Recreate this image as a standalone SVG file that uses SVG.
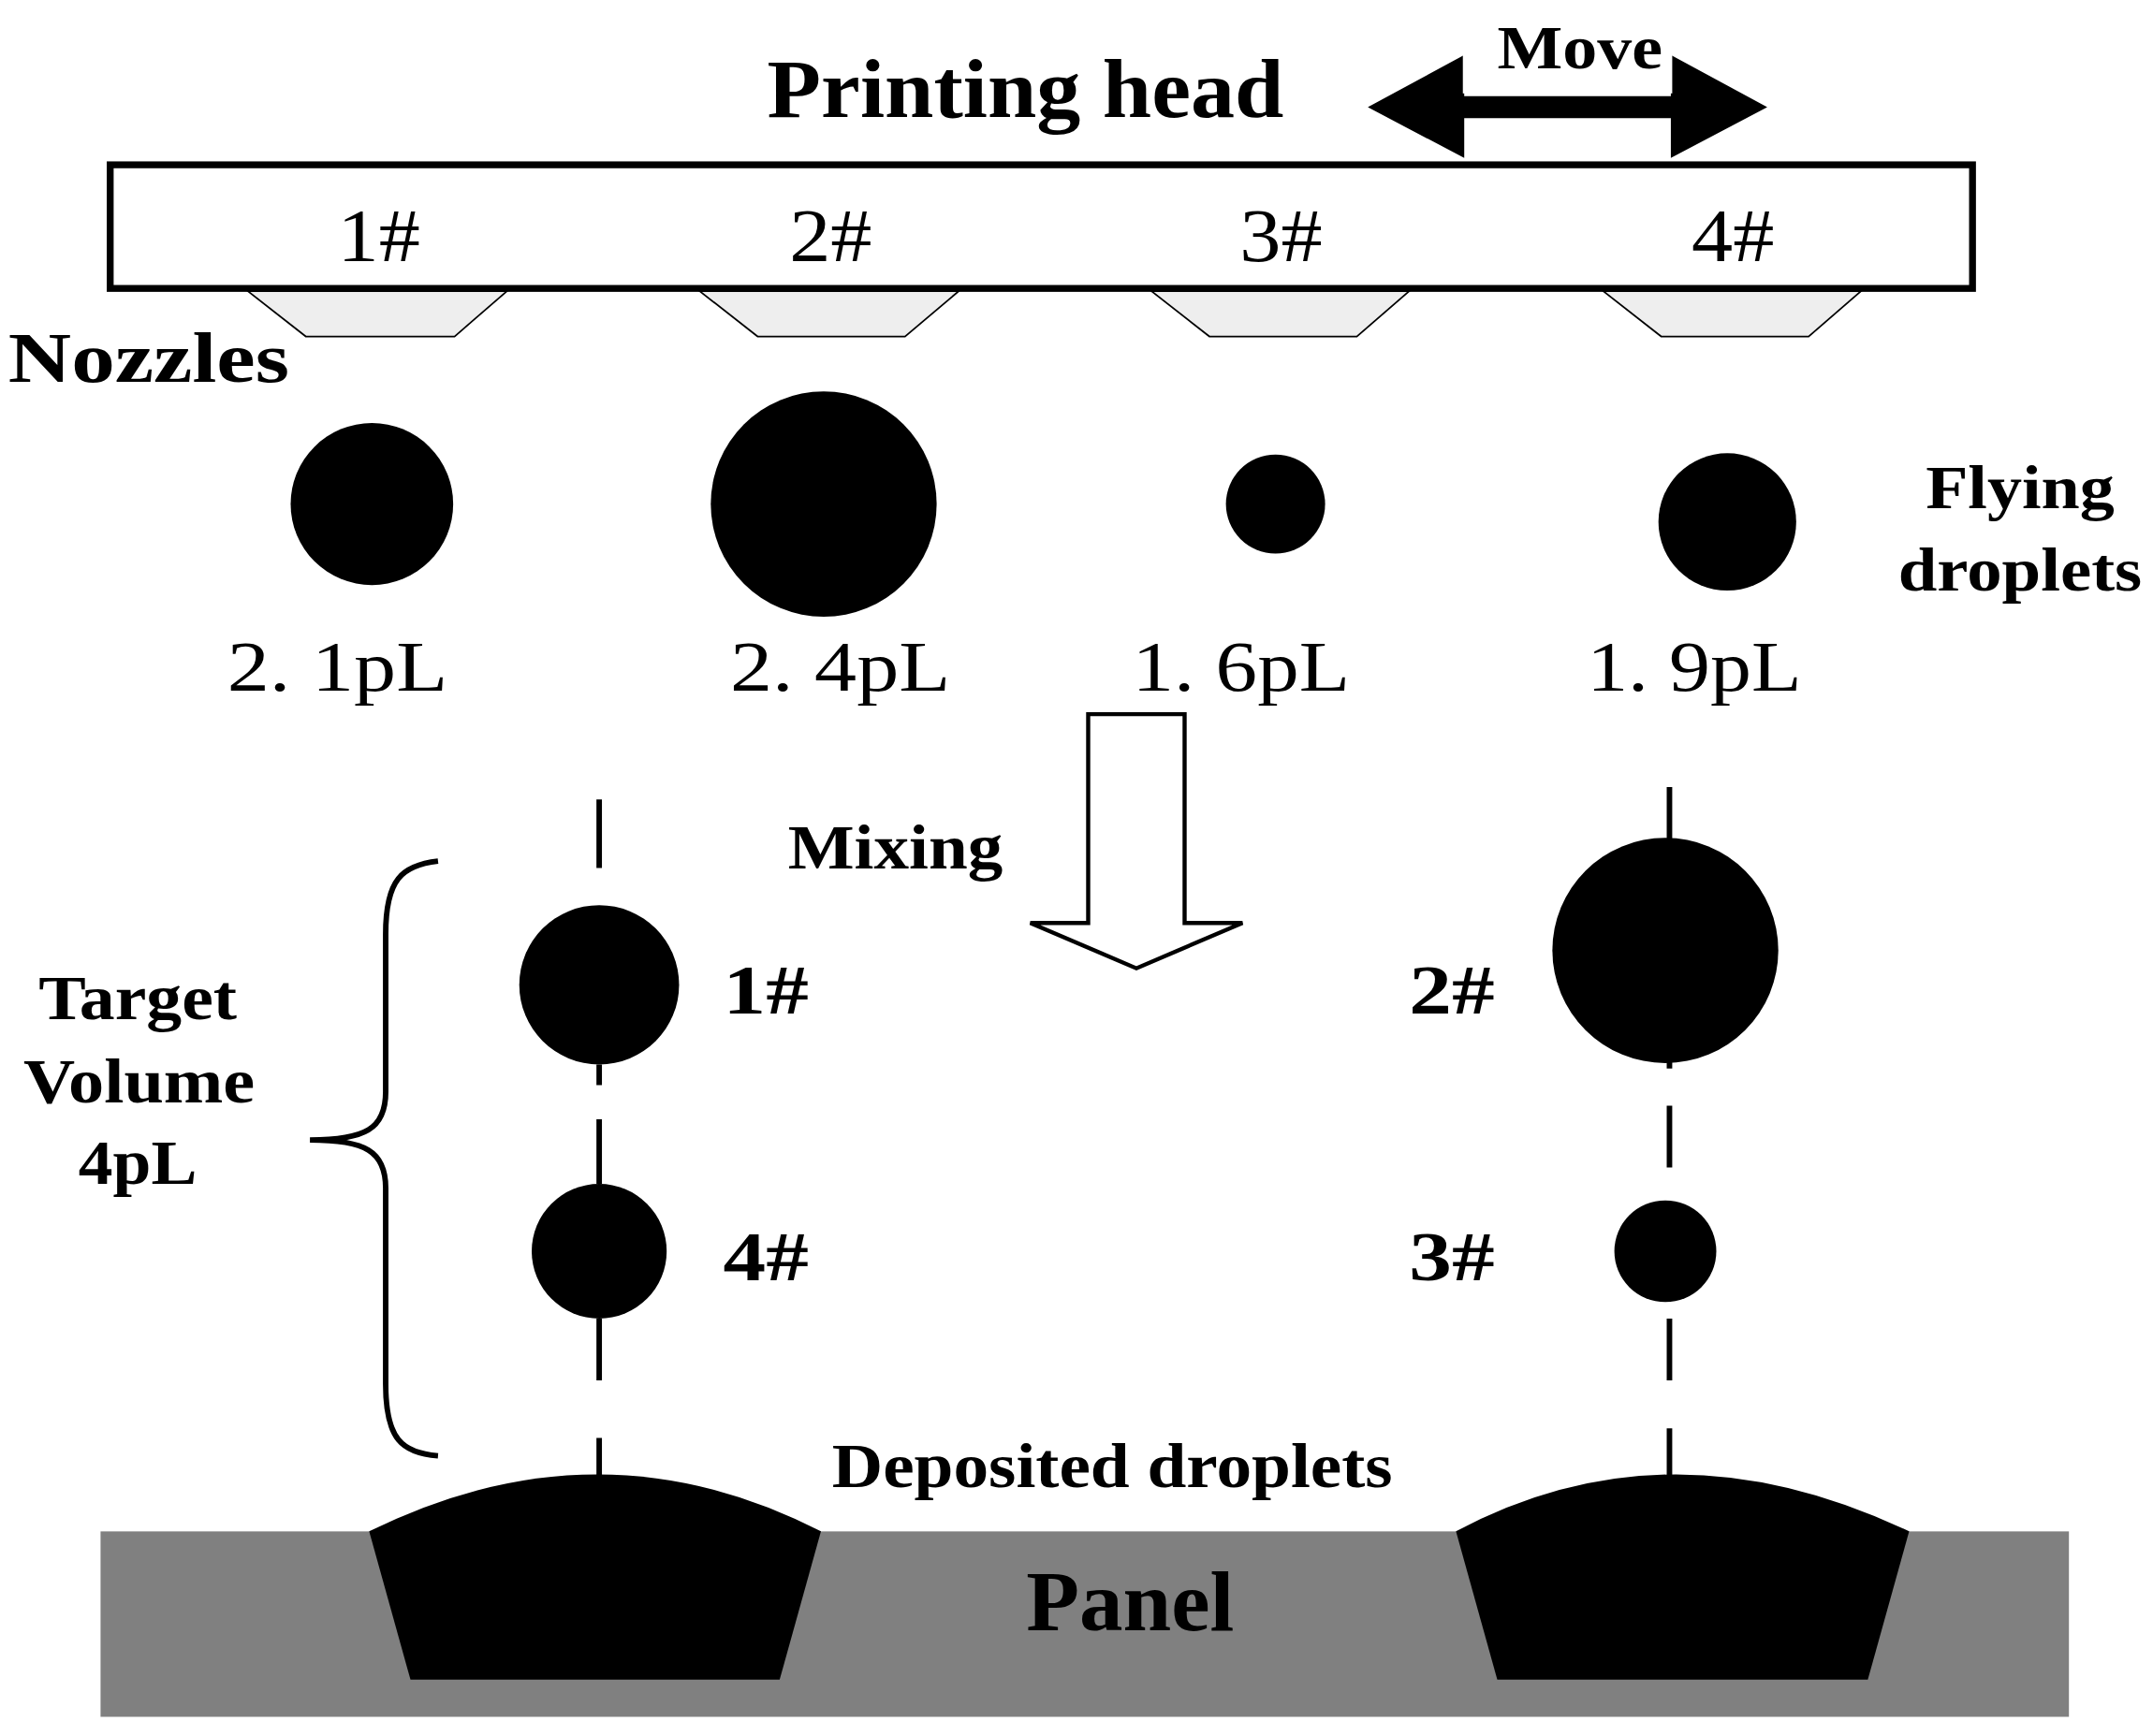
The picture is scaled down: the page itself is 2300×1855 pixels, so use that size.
<svg xmlns="http://www.w3.org/2000/svg" width="2300" height="1855" viewBox="0 0 2300 1855">
<style>
text{font-family:"Liberation Serif","Times New Roman",serif;fill:#000}
.b{font-weight:bold}
.d{stroke:#000;stroke-width:4;fill:none}
.nz{fill:#eeeeee;stroke:#000;stroke-width:1.2}
</style>
<rect width="2300" height="1855" fill="#fff"/>
<g transform="scale(1.4715,1.4676)">
<g id="title"><text class="b" x="557" y="85" font-size="60" textLength="375" lengthAdjust="spacingAndGlyphs">Printing head</text></g>
<g id="move">
<polygon points="993,78 1063,40 1063,70 1213,70 1213,40 1283,78 1213,115 1213,86 1063,86 1063,115" fill="#000"/>
<rect x="1062" y="20" width="152" height="48" fill="#fff"/>
<text class="b" x="1087" y="50" font-size="44" textLength="120" lengthAdjust="spacingAndGlyphs">Move</text>
</g>
<g id="head">
<rect x="80" y="120" width="1352" height="90" fill="#fff" stroke="#000" stroke-width="5"/>
<text x="245" y="190" font-size="55" textLength="60" lengthAdjust="spacingAndGlyphs">1#</text>
<text x="573" y="190" font-size="55" textLength="60" lengthAdjust="spacingAndGlyphs">2#</text>
<text x="900" y="190" font-size="55" textLength="60" lengthAdjust="spacingAndGlyphs">3#</text>
<text x="1228" y="190" font-size="55" textLength="60" lengthAdjust="spacingAndGlyphs">4#</text>
</g>
<g id="nozzles">
<polygon class="nz" points="180,212 368,212 330,245 222,245"/>
<polygon class="nz" points="508,212 696,212 657,245 550,245"/>
<polygon class="nz" points="836,212 1023,212 985,245 878,245"/>
<polygon class="nz" points="1164,212 1351,212 1313,245 1206,245"/>
<text class="b" x="6" y="278" font-size="52" textLength="204" lengthAdjust="spacingAndGlyphs">Nozzles</text>
</g>
<g id="flying">
<circle cx="270" cy="367" r="59"/>
<circle cx="598" cy="367" r="82"/>
<circle cx="926" cy="367" r="36"/>
<circle cx="1254" cy="380" r="50"/>
<text x="165" y="503" font-size="52" textLength="160" lengthAdjust="spacingAndGlyphs">2. 1pL</text>
<text x="530" y="503" font-size="52" textLength="160" lengthAdjust="spacingAndGlyphs">2. 4pL</text>
<text x="822" y="503" font-size="52" textLength="158" lengthAdjust="spacingAndGlyphs">1. 6pL</text>
<text x="1152" y="503" font-size="52" textLength="156" lengthAdjust="spacingAndGlyphs">1. 9pL</text>
<text class="b" x="1398" y="370" font-size="44" textLength="137" lengthAdjust="spacingAndGlyphs">Flying</text>
<text class="b" x="1378" y="430" font-size="44" textLength="177" lengthAdjust="spacingAndGlyphs">droplets</text>
</g>
<g id="mixing">
<polygon points="790,520 860,520 860,672 902,672 825,705 748,672 790,672" fill="#fff" stroke="#000" stroke-width="3"/>
<text class="b" x="572" y="632" font-size="46" textLength="156" lengthAdjust="spacingAndGlyphs">Mixing</text>
</g>
<g id="connectors">
<path class="d" d="M435,582V632M435,775V790M435,815V862M435,960V1005M435,1047V1076"/>
<path class="d" d="M1212,573V612M1212,772V778M1212,805V850M1212,960V1005M1212,1040V1076"/>
<path d="M318,627C292,630 280,640 280,680V795C280,822 265,830 225,830C265,830 280,838 280,865V1008C280,1048 292,1058 318,1060" fill="none" stroke="#000" stroke-width="4"/>
</g>
<g id="mixed">
<circle cx="435" cy="717" r="58"/>
<circle cx="435" cy="911" r="49"/>
<circle cx="1209" cy="692" r="82"/>
<circle cx="1209" cy="911" r="37"/>
<text class="b" x="525" y="738" font-size="50" textLength="62" lengthAdjust="spacingAndGlyphs">1#</text>
<text class="b" x="525" y="932" font-size="50" textLength="62" lengthAdjust="spacingAndGlyphs">4#</text>
<text class="b" x="1023" y="738" font-size="50" textLength="62" lengthAdjust="spacingAndGlyphs">2#</text>
<text class="b" x="1023" y="932" font-size="50" textLength="62" lengthAdjust="spacingAndGlyphs">3#</text>
<text class="b" x="28" y="742" font-size="46" textLength="144" lengthAdjust="spacingAndGlyphs">Target</text>
<text class="b" x="17" y="803" font-size="46" textLength="168" lengthAdjust="spacingAndGlyphs">Volume</text>
<text class="b" x="57" y="862" font-size="46" textLength="86" lengthAdjust="spacingAndGlyphs">4pL</text>
</g>
<g id="panel">
<rect x="73" y="1115" width="1429" height="135" fill="#808080"/>
<path d="M268,1115Q435,1032 596,1115L566,1223H298Z" fill="#000"/>
<path d="M1057,1115Q1212,1032 1386,1115L1356,1223H1087Z" fill="#000"/>
<text class="b" x="745" y="1187" font-size="62" textLength="151" lengthAdjust="spacingAndGlyphs">Panel</text>
<text class="b" x="604" y="1083" font-size="46" textLength="407" lengthAdjust="spacingAndGlyphs">Deposited droplets</text>
</g>
</g>
</svg>
